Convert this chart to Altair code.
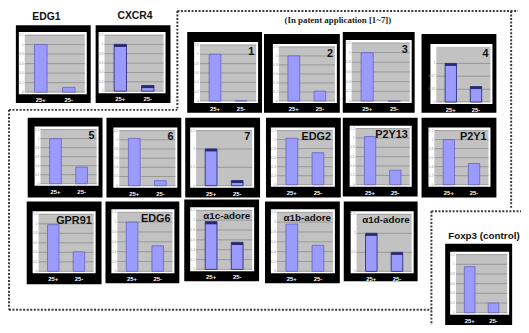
import altair as alt
import pandas as pd

# ---------------- data ----------------
panel_names = ["EDG1", "CXCR4", "1", "2", "3", "4", "5", "6", "7", "EDG2", "P2Y13", "P2Y1",
               "GPR91", "EDG6", "α1c-adore", "α1b-adore", "α1d-adore", "Foxp3 (control)"]
cond_labels = ["25+", "25-"]
pos_values = [1.0, 1.0, 1.0, 1.0, 1.0, 1.0, 1.0, 1.03, 1.0, 1.03, 1.03, 1.0, 0.98, 1.0, 0.97, 0.96, 1.0, 0.95]
neg_values = [0.1, 0.12, 0.01, 0.22, 0.0, 0.4, 0.37, 0.11, 0.14, 0.71, 0.31, 0.47, 0.41, 0.52, 0.55, 0.53, 0.5, 0.2]
axis_max = [1.2, 1.2, 1.2, 1.2, 1.2, 1.43, 1.2, 1.2, 1.5, 1.2, 1.2, 1.2, 1.2, 1.2, 1.2, 1.2, 1.5, 1.2]
ticks_std = [0, 0.2, 0.4, 0.6, 0.8, 1.0, 1.2]
ticks_p4 = [0, 0.33, 0.67, 1.0]
ticks_half = [0, 0.5, 1.0, 1.5]
group_title = "(In patent application [1~7])"

# ---------------- layout (page coords) ----------------
OFF = 8
# frame box, white box, title placement, title size, dark-edged bars
layout = [
    ((16, 23, 92, 102), (19, 30, 88, 93), ("out", 47, 15), 10.5, False),
    ((97, 23, 173, 102), (100, 30, 168, 92), ("out", 137, 14), 10.5, True),
    ((190, 30, 266, 112), (197, 40, 262, 102), ("in",), 11, False),
    ((268, 32, 345, 112), (277, 42, 342, 102), ("in",), 11, False),
    ((348, 30, 421, 112), (351, 38, 418, 102), ("in",), 11, False),
    ((428, 32, 504, 112), (437, 42, 500, 103), ("in",), 11, True),
    ((28, 117, 104, 198), (35, 126, 100, 186), ("in",), 11, False),
    ((108, 117, 184, 198), (115, 127, 180, 188), ("in",), 11, False),
    ((188, 117, 264, 198), (193, 127, 258, 188), ("in",), 11, True),
    ((270, 117, 346, 198), (275, 127, 340, 187), ("in",), 11, False),
    ((348, 117, 424, 197), (355, 125, 418, 187), ("in",), 11, False),
    ((428, 117, 504, 198), (435, 127, 498, 187), ("in",), 11, False),
    ((27, 202, 103, 286), (33, 212, 97, 275), ("in",), 11, False),
    ((107, 202, 182, 285), (113, 210, 177, 275), ("in",), 11, False),
    ((187, 200, 263, 283), (193, 208, 258, 273), ("in",), 10, True),
    ((269, 202, 345, 285), (275, 210, 340, 275), ("in",), 10, False),
    ((349, 202, 424, 283), (356, 212, 420, 275), ("in",), 10, True),
    ((452, 245, 520, 331), (457, 253, 517, 317), ("outleft", 455, 237), 10, False),
]
dotted = [
    (180, 8.5, 526, 8.5), (180, 8.5, 180, 109), (9, 109, 180, 109), (9, 109, 9, 312),
    (9, 312, 438, 312), (438, 212, 438, 333), (438, 212, 529, 212), (519, 8.5, 519, 210),
]

W, H = 521, 317
FONT = "Liberation Sans"


def sh(box):
    return [v - OFF for v in box]


def ident(field, kind="x"):
    if kind == "x":
        return alt.X(field, type="quantitative", scale=None, axis=None)
    return alt.Y(field, type="quantitative", scale=None, axis=None)


frames, whites, grays, titles = [], [], [], []
for i, (fr, wh, tmode, tsize, dark) in enumerate(layout):
    f = sh(fr)
    w = sh(wh)
    g = [w[0] + 6, w[1] + 3, w[2] - 2, w[3] - 2]
    frames.append(dict(x0=f[0], y0=f[1], x1=f[2], y1=f[3]))
    whites.append(dict(x0=w[0], y0=w[1], x1=w[2], y1=w[3]))
    grays.append(dict(x0=g[0], y0=g[1], x1=g[2], y1=g[3]))

frame_df = pd.DataFrame(frames)
white_df = pd.DataFrame(whites)
gray_df = pd.DataFrame(grays)


def box_layer(df, color):
    return alt.Chart(df).mark_rect(color=color).encode(
        x=ident("x0:Q"), x2="x1:Q", y=ident("y0:Q", "y"), y2="y1:Q")


layers = [box_layer(frame_df, "#000000"), box_layer(white_df, "#ffffff"), box_layer(gray_df, "#c2c2c2")]

for i, name in enumerate(panel_names):
    fr, wh, tmode, tsize, dark = layout[i]
    f = sh(fr)
    w = sh(wh)
    g = [w[0] + 6, w[1] + 3, w[2] - 2, w[3] - 2]
    ymax = axis_max[i]
    if name == "4":
        ticks = ticks_p4
    elif ymax == 1.5:
        ticks = ticks_half
    else:
        ticks = ticks_std
    bar_df = pd.DataFrame({"cond": cond_labels, "value": [pos_values[i], neg_values[i]]})
    tick_df = pd.DataFrame({"tick": ticks, "lab": [("%g" % t) for t in ticks]})
    xs = alt.Scale(domain=cond_labels, range=[g[0], g[2]], paddingInner=0.55, paddingOuter=0.35)
    ys = alt.Scale(domain=[0, ymax], range=[g[3], g[1]], nice=False, zero=True)

    grid = alt.Chart(tick_df).mark_rule(color="#8e8e8e", strokeWidth=0.8).encode(
        y=alt.Y("tick:Q", scale=ys, axis=None), x=alt.value(g[0]), x2=alt.value(g[2]))
    tlab = alt.Chart(tick_df).mark_text(fontSize=3.5, color="#9a9a9a", align="right", baseline="middle",
                                         font=FONT).encode(
        y=alt.Y("tick:Q", scale=ys, axis=None), x=alt.value(g[0] - 1), text="lab:N")
    bars = alt.Chart(bar_df).mark_bar(
        color="#9a9aff",
        stroke="#3a3a8a" if dark else "#6464c0",
        strokeWidth=1.0 if dark else 0.8,
    ).encode(
        x=alt.X("cond:N", scale=xs, axis=None, sort=cond_labels),
        y=alt.Y("value:Q", scale=ys, axis=None),
    )
    parts = [grid, tlab, bars]
    if dark:
        cap = alt.Chart(bar_df).transform_calculate(
            lower="max(0, datum.value - %f)" % (0.045 * ymax)
        ).mark_bar(color="#2a2a6e").encode(
            x=alt.X("cond:N", scale=xs, axis=None, sort=cond_labels),
            y=alt.Y("value:Q", scale=ys, axis=None),
            y2="lower:Q",
        )
        parts.append(cap)
    xl = alt.Chart(bar_df).mark_text(fontSize=6, color="#ffffff", baseline="middle", font=FONT,
                                      fontWeight="bold").encode(
        x=alt.X("cond:N", scale=xs, axis=None, sort=cond_labels),
        y=alt.value(w[3] + 6), text="cond:N")
    parts.append(xl)
    layers.append(alt.layer(*parts))

    if tmode[0] == "in":
        titles.append(dict(t=name, x=g[2] - 2, y=g[1] + 1, size=tsize, align="right", base="top"))
    elif tmode[0] == "out":
        titles.append(dict(t=name, x=tmode[1] - OFF, y=tmode[2] - OFF, size=tsize, align="center", base="middle"))
    else:
        titles.append(dict(t=name, x=tmode[1] - OFF, y=tmode[2] - OFF, size=tsize, align="left", base="middle"))

title_df = pd.DataFrame(titles)
for (al, bs), sub in title_df.groupby(["align", "base"]):
    for sz, sub2 in sub.groupby("size"):
        layers.append(alt.Chart(sub2).mark_text(
            font=FONT, fontWeight="bold", fontSize=float(sz), color="#111111", align=al, baseline=bs
        ).encode(x=ident("x:Q"), y=ident("y:Q", "y"), text="t:N"))

dot_df = pd.DataFrame([dict(x0=a - OFF, y0=b - OFF, x1=c - OFF, y1=d - OFF) for a, b, c, d in dotted])
layers.append(alt.Chart(dot_df).mark_rule(color="#3a3a3a", strokeWidth=2, strokeDash=[2, 1.6]).encode(
    x=ident("x0:Q"), x2="x1:Q", y=ident("y0:Q", "y"), y2="y1:Q"))

gt_df = pd.DataFrame({"t": [group_title], "x": [343 - OFF], "y": [18 - OFF]})
layers.append(alt.Chart(gt_df).mark_text(font="Liberation Serif", fontWeight="bold", fontSize=9,
                                         color="#222222", align="center", baseline="middle").encode(
    x=ident("x:Q"), y=ident("y:Q", "y"), text="t:N"))

chart = alt.layer(*layers).resolve_scale(x="independent", y="independent").properties(
    width=W, height=H, padding=0, autosize=alt.AutoSizeParams(type="none"),
    background="#ffffff",
).configure_view(stroke=None)

chart.save("out.html", embed_options={"renderer": "svg", "actions": False})
